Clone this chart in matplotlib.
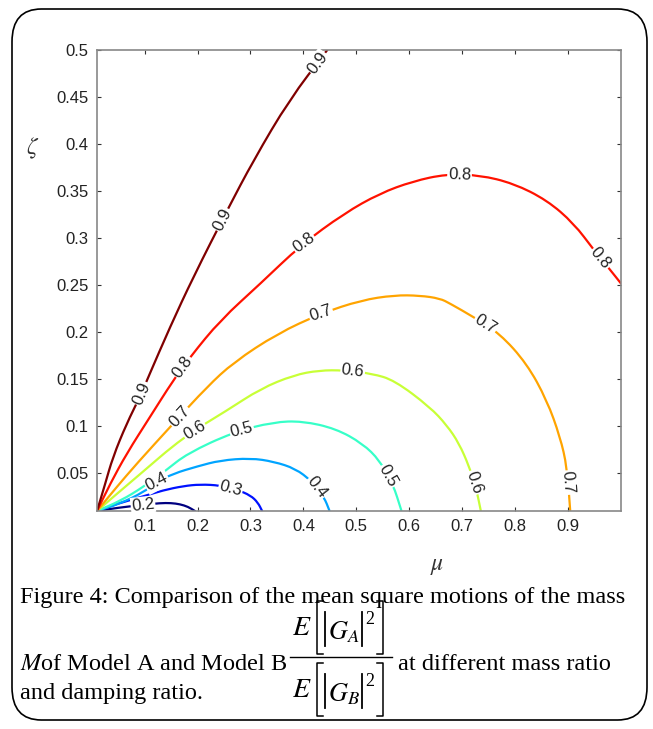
import numpy as np
import matplotlib.pyplot as plt
from matplotlib.patches import FancyBboxPatch, PathPatch
from matplotlib.path import Path
from matplotlib.lines import Line2D

plt.rcParams['font.family'] = ['Liberation Sans', 'DejaVu Sans']
plt.rcParams['mathtext.fontset'] = 'stix'

# ---------- contour lines (mu, zeta)
levels = [0.2, 0.3, 0.4, 0.5, 0.6, 0.7, 0.8, 0.9]

mu_02 = [0.01, 0.05, 0.097, 0.129, 0.150, 0.167, 0.182, 0.195]
zeta_02 = [0.01, 0.0135, 0.0165, 0.0184, 0.0185, 0.0172, 0.0145, 0.01]

mu_03 = [0.01, 0.05, 0.097, 0.135, 0.173, 0.205, 0.243, 0.275, 0.300, 0.314, 0.322]
zeta_03 = [0.01, 0.018, 0.0255, 0.032, 0.0365, 0.0383, 0.0372, 0.0325, 0.0266, 0.019, 0.01]

mu_04 = [0.01, 0.053, 0.098, 0.123, 0.154, 0.200, 0.243, 0.300, 0.344, 0.385, 0.415, 0.439, 0.449]
zeta_04 = [0.01, 0.0178, 0.030, 0.0407, 0.0497, 0.0575, 0.0638, 0.0662, 0.0625, 0.0550, 0.042, 0.0248, 0.0106]

mu_05 = [0.01, 0.055, 0.097, 0.140, 0.180, 0.268, 0.344, 0.398, 0.461, 0.512, 0.544, 0.569, 0.585]
zeta_05 = [0.01, 0.021, 0.0354, 0.053, 0.071, 0.0939, 0.1046, 0.1056, 0.0976, 0.0816, 0.0638, 0.039, 0.0106]

mu_06 = [0.01, 0.045, 0.085, 0.173, 0.256, 0.319, 0.382, 0.430, 0.477, 0.530, 0.572, 0.639, 0.671, 0.694, 0.713, 0.726, 0.735]
zeta_06 = [0.01, 0.027, 0.0461, 0.0886, 0.117, 0.140, 0.1545, 0.1595, 0.1596, 0.1560, 0.1489, 0.1205, 0.1011, 0.0819, 0.0574, 0.0351, 0.0106]

mu_07 = [0.01, 0.045, 0.085, 0.154, 0.218, 0.268, 0.351, 0.433, 0.509, 0.572, 0.620, 0.658, 0.677, 0.721, 0.771, 0.822, 0.860, 0.885, 0.898, 0.904]
zeta_07 = [0.01, 0.034, 0.0603, 0.1029, 0.142, 0.168, 0.1986, 0.2199, 0.234, 0.2394, 0.239, 0.2359, 0.2305, 0.2163, 0.1986, 0.1667, 0.1277, 0.0886, 0.0567, 0.0106]

mu_08 = [0.01, 0.035, 0.066, 0.110, 0.154, 0.186, 0.243, 0.319, 0.395, 0.477, 0.544, 0.607, 0.670, 0.733, 0.797, 0.860, 0.911, 0.949, 0.980, 1.0]
zeta_08 = [0.01, 0.039, 0.071, 0.1099, 0.1489, 0.1737, 0.2128, 0.2518, 0.2926, 0.3263, 0.3475, 0.3605, 0.3681, 0.367, 0.3582, 0.3404, 0.3156, 0.2872, 0.266, 0.2518]

mu_09 = [0.01, 0.025, 0.040, 0.066, 0.091, 0.107, 0.148, 0.192, 0.256, 0.306, 0.373, 0.445]
zeta_09 = [0.01, 0.038, 0.0673, 0.1029, 0.1312, 0.1524, 0.2056, 0.2588, 0.3298, 0.383, 0.4468, 0.5]

curves_mu = [mu_02, mu_03, mu_04, mu_05, mu_06, mu_07, mu_08, mu_09]
curves_zeta = [zeta_02, zeta_03, zeta_04, zeta_05, zeta_06, zeta_07, zeta_08, zeta_09]

# where the inline labels sit (mu, zeta), snapped onto each curve
label_pos = [[(0.097, 0.016)],
             [(0.262, 0.033)],
             [(0.123, 0.041), (0.423, 0.034)],
             [(0.284, 0.095), (0.559, 0.047)],
             [(0.192, 0.098), (0.493, 0.158), (0.721, 0.04)],
             [(0.167, 0.11), (0.433, 0.22), (0.74, 0.205), (0.895, 0.04)],
             [(0.18, 0.16), (0.401, 0.295), (0.695, 0.368), (0.958, 0.277)],
             [(0.094, 0.135), (0.246, 0.32), (0.426, 0.487)]]

xticks = [0.1, 0.2, 0.3, 0.4, 0.5, 0.6, 0.7, 0.8, 0.9]
xticklabels = ['0.1', '0.2', '0.3', '0.4', '0.5', '0.6', '0.7', '0.8', '0.9']
yticks = [0.05, 0.1, 0.15, 0.2, 0.25, 0.3, 0.35, 0.4, 0.45, 0.5]
yticklabels = ['0.05', '0.1', '0.15', '0.2', '0.25', '0.3', '0.35', '0.4', '0.45', '0.5']

W, H = 653, 729
fig = plt.figure(figsize=(W / 100, H / 100), dpi=100)
ax = fig.add_axes([97 / W, 1 - 511 / H, (621 - 97) / W, (511 - 50) / H])
ax.set_xlim(0.01, 1.0)
ax.set_ylim(0.01, 0.5)


def matlab_jet(t):
    # the old matlab jet map (red saturates earlier than matplotlib's jet)
    r = np.interp(t, [0, 0.375, 0.625, 0.875, 1], [0, 0, 1, 1, 0.5])
    g = np.interp(t, [0, 0.125, 0.375, 0.625, 0.875, 1], [0, 0, 1, 1, 0, 0])
    b = np.interp(t, [0, 0.125, 0.375, 0.625, 1], [0.5, 1, 1, 0, 0])
    return (float(r), float(g), float(b))


def smooth_path(xs, ys):
    # read points used as control points of a quadratic bezier chain
    v = np.column_stack([xs, ys])
    verts = [v[0], (v[0] + v[1]) / 2]
    codes = [Path.MOVETO, Path.LINETO]
    for i in range(1, len(v) - 1):
        verts += [v[i], (v[i] + v[i + 1]) / 2]
        codes += [Path.CURVE3, Path.CURVE3]
    verts.append(v[-1])
    codes.append(Path.LINETO)
    return Path(verts, codes)


for k, lev in enumerate(levels):
    col = matlab_jet((lev - 0.2) / 0.7)
    ax.add_patch(PathPatch(smooth_path(curves_mu[k], curves_zeta[k]), fill=False,
                           ec=col, lw=1.6, zorder=2, capstyle='round'))

fig.canvas.draw()


def label_on_curve(xs, ys, pos, txt):
    pts = ax.transData.transform(np.column_stack([xs, ys]))
    p = ax.transData.transform(pos)
    best = None
    for s in range(len(pts) - 1):
        a, b = pts[s], pts[s + 1]
        d = b - a
        t = np.clip(np.dot(p - a, d) / np.dot(d, d), 0, 1)
        q = a + t * d
        dist = np.hypot(*(p - q))
        if best is None or dist < best[0]:
            best = (dist, q, d)
    _, q, d = best
    ang = np.degrees(np.arctan2(d[1], d[0]))
    if ang > 90:
        ang -= 180
    if ang < -90:
        ang += 180
    xd, yd = ax.transData.inverted().transform(q)
    ax.text(xd, yd, txt, rotation=ang, ha='center', va='center',
            fontsize=12, color='#222222', zorder=4,
            bbox=dict(boxstyle='square,pad=0.05', fc='white', ec='none'))


for k, lev in enumerate(levels):
    for pos in label_pos[k]:
        label_on_curve(curves_mu[k], curves_zeta[k], pos, '%.1f' % lev)

ax.set_xticks(xticks)
ax.set_xticklabels(xticklabels)
ax.set_yticks(yticks)
ax.set_yticklabels(yticklabels)
ax.tick_params(direction='in', length=3, width=0.8, top=True, right=True,
               labelsize=12, labelcolor='#222222', color='#333333', pad=6)
for s in ax.spines.values():
    s.set_color('#888888')
    s.set_linewidth(1.2)


def ptext(x, y, s, **kw):
    fig.text(x / W, 1 - y / H, s, **kw)


def pline(xs, ys, lw=1.0):
    fig.add_artist(Line2D([x / W for x in xs], [1 - y / H for y in ys],
                          color='black', lw=lw, transform=fig.transFigure))


ptext(33, 148, r'$\zeta$', fontsize=17, color='#333333', ha='center', va='center')
ptext(437, 566, r'$\mu$', fontsize=17, color='#333333', ha='center', va='center')

# ---------- caption
serif = ['Liberation Serif', 'DejaVu Serif']
cap = 17.5
ptext(20, 598, 'Figure 4: Comparison of the mean square motions of the mass',
      family=serif, fontsize=cap, ha='left', va='center')
ptext(20, 664, r'$M$of Model A and Model B', family=serif, fontsize=cap,
      ha='left', va='center')
ptext(398, 664, 'at different mass ratio', family=serif, fontsize=cap,
      ha='left', va='center')
ptext(20, 693, 'and damping ratio.', family=serif, fontsize=cap,
      ha='left', va='center')

# fraction E[|G_A|^2] / E[|G_B|^2]
pline([290, 392], [657, 657])
for y0, sub in [(0, 'A'), (62, 'B')]:
    ptext(302, 628 + y0, r'$E$', fontsize=20, ha='center', va='center')
    pline([323, 317, 317, 323], [601 + y0, 601 + y0, 654 + y0, 654 + y0], lw=1.1)
    pline([325, 325], [612 + y0, 646 + y0], lw=1.3)
    ptext(328, 632 + y0, r'$G_{%s}$' % sub, fontsize=19, ha='left', va='center')
    pline([362, 362], [612 + y0, 646 + y0], lw=1.3)
    ptext(370, 620 + y0, '2', family=serif, fontsize=13, ha='center', va='center')
    pline([377, 383, 383, 377], [601 + y0, 601 + y0, 654 + y0, 654 + y0], lw=1.1)

# ---------- rounded frame
frame = FancyBboxPatch((12 / W, 9 / H), (647 - 12) / W, (720 - 9) / H,
                       boxstyle='round,pad=0,rounding_size=0.045',
                       transform=fig.transFigure, fc='none', ec='black', lw=1.2)
fig.add_artist(frame)

fig.savefig('out.png', dpi=100)
